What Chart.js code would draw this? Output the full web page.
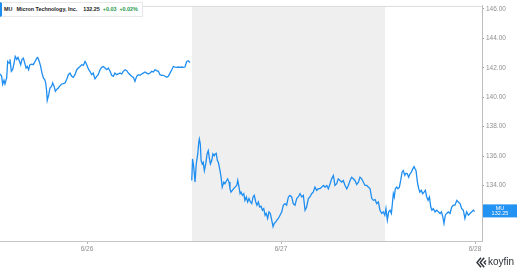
<!DOCTYPE html>
<html>
<head>
<meta charset="utf-8">
<script src="https://cdn.jsdelivr.net/npm/chart.js@4.4.1/dist/chart.umd.min.js"></script>
<style>
  html, body { margin: 0; padding: 0; background: #fff; }
  #wrap { position: relative; width: 520px; height: 272px; overflow: hidden; font-family: "Liberation Sans", Arial, sans-serif; }
  #c { position: absolute; left: 0; top: 0; }
  #legend { position: absolute; left: 0; top: 2px; height: 15px; background: #fff;
            border: 1px solid #e8e8e8; border-left: 2px solid #1f8ef1; box-sizing: border-box;
            padding: 0 4px 0 2px; font-size: 5.4px; font-weight: bold; line-height: 13px;
            white-space: nowrap; color: #222; }
  #legend span { display: inline-block; }
  .g { color: #1f9a4b; }
  #logo { position: absolute; left: 476px; top: 254px; height: 16px; white-space: nowrap; }
  #logo svg { position: absolute; left: 0; top: 3px; }
  #logo span { position: absolute; left: 12px; top: 0; font-family: "Liberation Sans", Arial, sans-serif; font-size: 10px; line-height: 16px; color: #2b2f36; }
</style>
</head>
<body>
<div id="wrap">
  <canvas id="c" width="520" height="272"></canvas>
  <div id="legend"></div>
  <div id="logo">
    <svg width="11" height="11" viewBox="0 0 11 11">
      <path d="M5 0.8 L1 5.5 L5 10.2" fill="none" stroke="#2b2f36" stroke-width="1.4"/>
      <path d="M8.2 0.8 L4.2 5.5 L8.2 10.2" fill="none" stroke="#2b2f36" stroke-width="1.4"/>
      <path d="M10 3.5 L8 5.5 L10 7.5" fill="none" stroke="#2b2f36" stroke-width="1.2"/>
    </svg>
    <span>koyfin</span>
  </div>
</div>
<script>
// ---- data (time in days relative to 6/26 00:00) ----
const ticker = 'MU';
const companyName = 'Micron Technology, Inc.';
const lastPrice = 132.25;
const changeAbs = '+0.03';
const changePct = '+0.02%';
const dayTicks = [0, 1, 2];
const dayLabels = ['6/26', '6/27', '6/28'];
const priceTicks = [132, 134, 136, 138, 140, 142, 144, 146];
const xRange = [-0.4485, 2.036];
const yRange = [130.24, 146.2];
const shadedSession = [0.541, 1.536];

const times1 = [-0.448,-0.440,-0.435,-0.428,-0.423,-0.414,-0.409,-0.402,-0.397,-0.390,-0.383,-0.376,-0.370,-0.362,-0.356,-0.349,-0.342,-0.335,-0.328,-0.321,-0.314,-0.308,-0.301,-0.294,-0.285,-0.277,-0.268,-0.259,-0.254,-0.246,-0.239,-0.232,-0.225,-0.218,-0.213,-0.208,-0.205,-0.197,-0.191,-0.182,-0.177,-0.170,-0.163,-0.156,-0.148,-0.139,-0.130,-0.122,-0.113,-0.105,-0.096,-0.088,-0.079,-0.071,-0.062,-0.053,-0.045,-0.036,-0.027,-0.019,-0.010,-0.005,0.002,0.009,0.015,0.024,0.032,0.041,0.050,0.058,0.067,0.076,0.084,0.093,0.102,0.110,0.119,0.127,0.136,0.144,0.153,0.161,0.170,0.179,0.187,0.196,0.205,0.213,0.222,0.230,0.239,0.247,0.256,0.264,0.273,0.282,0.290,0.299,0.308,0.316,0.325,0.334,0.342,0.351,0.359,0.368,0.376,0.385,0.393,0.402,0.411,0.419,0.428,0.437,0.445,0.454,0.462,0.471,0.479,0.488,0.496,0.505,0.514,0.522,0.531,0.536];
const prices1 = [141.58,141.42,140.88,141.15,140.90,141.31,142.43,142.32,142.57,141.76,141.89,142.32,142.77,142.57,142.70,142.48,142.21,142.57,142.65,142.32,141.98,142.09,141.87,142.21,142.25,142.21,142.43,142.65,142.70,142.43,142.09,141.64,141.31,141.20,140.97,140.41,139.78,140.19,140.63,140.75,140.97,140.75,140.41,140.53,140.63,140.79,140.90,140.93,140.97,141.20,141.53,141.64,141.42,141.35,141.53,141.87,141.98,142.09,142.21,142.16,142.43,142.32,142.09,141.87,141.76,141.53,141.64,141.25,141.42,141.53,141.87,142.03,142.09,141.98,141.87,141.98,141.76,141.49,141.42,141.64,141.53,141.58,141.64,141.58,141.76,141.87,141.80,141.64,141.53,141.42,141.35,141.08,141.42,141.53,141.49,141.58,141.64,141.71,141.64,141.58,141.64,141.76,141.71,141.87,141.80,141.76,141.53,141.49,141.49,141.42,141.35,141.42,141.64,141.87,142.09,142.05,142.03,142.05,142.03,142.05,142.03,142.05,142.43,142.48,142.36,142.36];

const times2 = [0.540,0.544,0.550,0.557,0.563,0.571,0.576,0.579,0.584,0.588,0.594,0.599,0.605,0.612,0.619,0.625,0.630,0.636,0.643,0.649,0.656,0.661,0.666,0.672,0.677,0.682,0.687,0.691,0.697,0.705,0.711,0.720,0.725,0.732,0.737,0.742,0.749,0.756,0.763,0.772,0.777,0.782,0.789,0.794,0.801,0.808,0.814,0.821,0.828,0.835,0.842,0.849,0.856,0.862,0.870,0.876,0.883,0.890,0.897,0.904,0.911,0.918,0.924,0.931,0.938,0.945,0.952,0.959,0.965,0.973,0.979,0.986,0.995,1.004,1.012,1.021,1.029,1.038,1.046,1.055,1.063,1.072,1.081,1.089,1.098,1.107,1.115,1.124,1.132,1.141,1.149,1.158,1.166,1.175,1.184,1.192,1.201,1.210,1.218,1.227,1.236,1.244,1.253,1.261,1.270,1.278,1.287,1.295,1.304,1.313,1.321,1.330,1.339,1.347,1.356,1.364,1.373,1.381,1.390,1.399,1.407,1.416,1.424,1.433,1.442,1.450,1.459,1.468,1.476,1.485,1.493,1.502,1.510,1.519,1.527,1.535,1.541,1.548,1.555,1.562,1.569,1.574,1.579,1.584,1.589,1.596,1.603,1.610,1.617,1.624,1.630,1.638,1.644,1.651,1.658,1.665,1.672,1.679,1.686,1.691,1.696,1.703,1.710,1.716,1.723,1.730,1.737,1.744,1.751,1.758,1.765,1.772,1.778,1.785,1.794,1.803,1.811,1.820,1.827,1.834,1.840,1.847,1.854,1.862,1.871,1.880,1.888,1.897,1.906,1.914,1.923,1.931,1.940,1.948,1.957,1.966,1.974,1.983,1.991,1.998];
const prices2 = [134.35,135.81,135.25,134.24,135.47,136.15,136.93,137.16,136.82,135.70,135.47,135.58,135.02,135.47,136.15,136.37,135.92,135.47,135.70,136.15,136.03,136.15,136.19,135.70,135.58,135.25,134.91,134.57,133.90,134.24,134.13,134.35,134.46,134.24,133.79,133.56,133.68,133.79,133.90,134.01,134.35,134.01,133.45,133.56,133.34,133.45,133.00,133.23,132.89,133.12,132.89,132.78,133.23,133.34,132.89,132.67,132.89,132.55,132.60,132.33,132.44,131.99,132.11,131.77,132.22,132.11,131.66,131.21,131.43,131.54,131.66,131.77,131.99,132.22,132.67,132.78,132.67,133.23,133.34,133.23,132.78,132.67,133.12,133.23,133.45,133.23,133.34,132.33,132.55,133.12,133.23,133.45,133.56,133.90,133.68,133.79,133.79,133.90,134.01,133.90,134.01,133.79,134.13,134.46,134.69,134.01,134.13,134.46,134.35,134.24,134.35,134.01,133.79,134.01,134.35,134.57,134.46,134.35,134.08,134.24,134.57,134.46,134.24,134.01,134.01,133.90,133.79,133.12,133.00,133.05,132.78,132.89,132.33,132.11,132.22,131.99,132.44,131.66,132.22,132.33,132.11,132.78,133.45,133.23,133.79,133.90,133.79,133.90,134.35,134.91,135.02,134.69,134.84,134.80,134.57,134.80,134.91,135.14,135.29,135.14,135.02,134.24,133.79,133.56,133.68,133.45,133.56,133.68,133.23,133.00,133.23,132.55,132.33,132.44,132.22,132.33,132.22,132.11,132.22,131.88,131.43,131.99,132.11,132.22,132.11,132.55,132.67,132.67,133.00,132.89,132.78,132.44,132.33,131.77,132.22,131.99,132.11,132.22,132.33,132.25];

// ---- build series (gap between sessions) ----
const points = [];
times1.forEach((t, i) => points.push({ x: t, y: prices1[i] }));
points.push({ x: (times1[times1.length - 1] + times2[0]) / 2, y: null });
times2.forEach((t, i) => points.push({ x: t, y: prices2[i] }));

const LINE = '#1f8ef1';
const AXIS_TXT = '#8f8f8f';

// legend
const lg = document.getElementById('legend');
lg.innerHTML =
  '<span>' + ticker + '</span>' +
  '<span style="margin-left:4px">' + companyName + '</span>' +
  '<span style="margin-left:6px">' + lastPrice.toFixed(2) + '</span>' +
  '<span class="g" style="margin-left:3px">' + changeAbs + '</span>' +
  '<span class="g" style="margin-left:3px">' + changePct + '</span>';

const decor = {
  id: 'decor',
  beforeDatasetsDraw(chart) {
    const { ctx, chartArea: a, scales: { x } } = chart;
    const x0 = x.getPixelForValue(shadedSession[0]);
    const x1 = x.getPixelForValue(shadedSession[1]);
    ctx.save();
    ctx.fillStyle = '#efefef';
    ctx.fillRect(x0, a.top, x1 - x0, a.bottom - a.top);
    ctx.restore();
  },
  afterDraw(chart) {
    const { ctx, chartArea: a, scales: { y } } = chart;
    ctx.save();
    ctx.strokeStyle = '#dcdcdc';
    ctx.lineWidth = 1;
    ctx.beginPath();
    ctx.moveTo(a.left, a.top + 0.5);
    ctx.lineTo(a.right, a.top + 0.5);
    ctx.stroke();
    // last price tag
    const py = y.getPixelForValue(lastPrice);
    const bx = a.right + 1, bw = 34, bh = 13, by = py - bh / 2 - 0.5;
    ctx.fillStyle = '#2393f3';
    ctx.fillRect(bx, by, bw, bh);
    ctx.fillStyle = '#ffffff';
    ctx.font = '5.5px "Liberation Sans", Arial, sans-serif';
    ctx.textAlign = 'center';
    ctx.textBaseline = 'middle';
    ctx.fillText(ticker, bx + bw / 2, by + 3.6);
    ctx.fillText(lastPrice.toFixed(2), bx + bw / 2, by + 9.4);
    ctx.restore();
  }
};

new Chart(document.getElementById('c'), {
  type: 'line',
  data: {
    datasets: [{
      data: points,
      borderColor: LINE,
      borderWidth: 1.3,
      pointRadius: 0,
      tension: 0,
      spanGaps: false,
      fill: false
    }]
  },
  options: {
    responsive: false,
    animation: false,
    devicePixelRatio: 1,
    layout: { padding: { top: 4, left: 0, right: 0, bottom: 0 } },
    plugins: { legend: { display: false }, tooltip: { enabled: false } },
    scales: {
      x: {
        type: 'linear',
        min: xRange[0],
        max: xRange[1],
        afterBuildTicks(s) { s.ticks = dayTicks.map(v => ({ value: v })); },
        afterFit(s) { s.height = 31; },
        ticks: {
          autoSkip: false,
          maxRotation: 0,
          padding: 1,
          color: AXIS_TXT,
          font: { size: 6.5, family: '"Liberation Sans", Arial, sans-serif' },
          callback(v) { const i = dayTicks.indexOf(v); return i >= 0 ? dayLabels[i] : ''; }
        },
        grid: { drawOnChartArea: false, drawTicks: true, tickLength: 3, color: '#b5b5b5' },
        border: { display: true, color: '#c4c4c4' }
      },
      y: {
        position: 'right',
        min: yRange[0],
        max: yRange[1],
        afterBuildTicks(s) { s.ticks = priceTicks.map(v => ({ value: v })); },
        afterFit(s) { s.width = 38; },
        ticks: {
          autoSkip: false,
          padding: 2,
          color: AXIS_TXT,
          font: { size: 6.5, family: '"Liberation Sans", Arial, sans-serif' },
          callback(v) { return Number(v).toFixed(2); }
        },
        grid: { drawOnChartArea: false, drawTicks: true, tickLength: 2, color: '#9a9a9a' },
        border: { display: true, color: '#bdbdbd' }
      }
    }
  },
  plugins: [decor]
});
</script>
</body>
</html>
